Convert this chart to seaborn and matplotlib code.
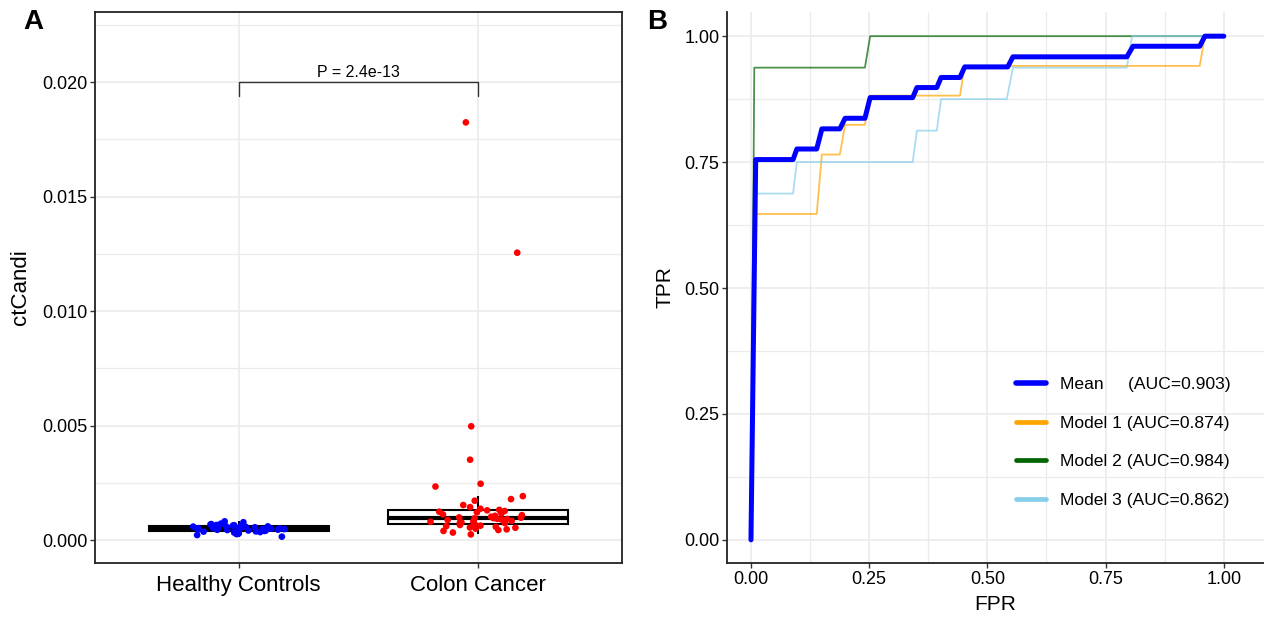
# ctCandi levels (A) and ROC curves of the three models (B)
import numpy as np
import pandas as pd
import matplotlib
matplotlib.use("Agg")
import matplotlib.pyplot as plt
import seaborn as sns
from matplotlib.lines import Line2D

# ---- panel A data ----
groups = ["Healthy Controls", "Colon Cancer"]
group_colors = ["blue", "red"]

healthy_vals = [0.00052, 0.00041, 0.00063, 0.00035, 0.00048, 0.00057, 0.00029, 0.00045,
                0.00066, 0.00050, 0.00038, 0.00060, 0.00044, 0.00022, 0.00055, 0.00047,
                0.00070, 0.00033, 0.00051, 0.00059, 0.00042, 0.00015, 0.00053, 0.00078,
                0.00046, 0.00037, 0.00062, 0.00049, 0.00056, 0.00031, 0.00068, 0.00043,
                0.00054, 0.00026, 0.00061, 0.00050, 0.00040, 0.00072, 0.00058, 0.00045,
                0.00065, 0.00082]

cancer_vals = [0.00096, 0.01824, 0.00072, 0.00132, 0.00055, 0.01255, 0.00088, 0.00117,
               0.00025, 0.00497, 0.00102, 0.00063, 0.00351, 0.00080, 0.00124, 0.00044,
               0.00246, 0.00093, 0.00109, 0.00058, 0.00234, 0.00076, 0.00130, 0.00033,
               0.00192, 0.00098, 0.00084, 0.00050, 0.00179, 0.00112, 0.00066, 0.00172,
               0.00090, 0.00121, 0.00040, 0.00153, 0.00077, 0.00099, 0.00061, 0.00144,
               0.00082, 0.00127, 0.00047, 0.00137, 0.00095, 0.00074, 0.00054, 0.00106,
               0.00092]

p_text = "P = 2.4e-13"
y_ticks_a = [0.0, 0.005, 0.010, 0.015, 0.020]
y_minor_a = [0.0025, 0.0075, 0.0125, 0.0175, 0.0225]

# ---- panel B data: ROC step points ----
m1_fpr = [0, 0.01, 0.139, 0.150, 0.188, 0.199, 0.241, 0.252, 0.442, 0.452, 0.949, 0.960, 1.0]
m1_tpr = [0, 0.647, 0.647, 0.765, 0.765, 0.824, 0.824, 0.882, 0.882, 0.941, 0.941, 1.0, 1.0]

m2_fpr = [0, 0.007, 0.241, 0.252, 1.0]
m2_tpr = [0, 0.9375, 0.9375, 1.0, 1.0]

m3_fpr = [0, 0.01, 0.089, 0.097, 0.342, 0.351, 0.393, 0.402, 0.541, 0.554, 0.795, 0.806, 1.0]
m3_tpr = [0, 0.6875, 0.6875, 0.75, 0.75, 0.8125, 0.8125, 0.875, 0.875, 0.9375, 0.9375, 1.0, 1.0]

mean_fpr = [0, 0.01, 0.089, 0.097, 0.139, 0.150, 0.188, 0.199, 0.241, 0.252, 0.342, 0.351,
            0.393, 0.402, 0.442, 0.452, 0.543, 0.554, 0.795, 0.808, 0.949, 0.960, 1.0]
mean_tpr = [0, 0.755, 0.755, 0.776, 0.776, 0.816, 0.816, 0.837, 0.837, 0.878, 0.878, 0.898,
            0.898, 0.918, 0.918, 0.939, 0.939, 0.959, 0.959, 0.980, 0.980, 1.0, 1.0]

roc_labels = ["Mean     (AUC=0.903)", "Model 1 (AUC=0.874)",
              "Model 2 (AUC=0.984)", "Model 3 (AUC=0.862)"]
roc_colors = ["blue", "orange", "darkgreen", "skyblue"]
rate_ticks = [0.0, 0.25, 0.50, 0.75, 1.0]
rate_minor = [0.125, 0.375, 0.625, 0.875]

sns.set_theme(style="white")
plt.rcParams['font.family'] = ['Liberation Sans', 'DejaVu Sans']
plt.rcParams['text.color'] = 'black'

W, H = 1264, 620
fig = plt.figure(figsize=(W / 100, H / 100), dpi=100)
ax1 = fig.add_axes([95 / W, 1 - 563 / H, (622 - 95) / W, (563 - 12) / H])
ax2 = fig.add_axes([727 / W, 1 - 563 / H, (W - 727) / W, (563 - 12) / H])

grid_col = "#EBEBEB"

# ---------------- Panel A ----------------
df = pd.DataFrame({
    "group": [groups[0]] * len(healthy_vals) + [groups[1]] * len(cancer_vals),
    "ctCandi": healthy_vals + cancer_vals,
})

sns.boxplot(data=df, x="group", y="ctCandi", order=groups, color="white",
            linecolor="black", linewidth=1.5, width=0.75, showfliers=False,
            showcaps=False, medianprops={"linewidth": 3}, ax=ax1)
np.random.seed(7)
sns.stripplot(data=df, x="group", y="ctCandi", order=groups, hue="group",
              hue_order=groups, palette=group_colors, jitter=0.2, size=4.8,
              legend=False, zorder=3, ax=ax1)

# significance bracket
ax1.plot([0, 0, 1, 1], [0.01939, 0.0200, 0.0200, 0.01939], color="#333333", lw=1.0)
ax1.text(0.5, 0.0202, p_text, ha="center", va="baseline", fontsize=11.5, color="black")

ax1.set_xlim(-0.6, 1.6)
ax1.set_ylim(-0.001, 0.02306)
ax1.set_yticks(y_ticks_a)
ax1.set_yticklabels([f"{v:.3f}" for v in y_ticks_a])
ax1.set_yticks(y_minor_a, minor=True)
ax1.grid(which="major", color=grid_col, lw=1.2)
ax1.grid(which="minor", axis="y", color=grid_col, lw=0.9)
ax1.set_axisbelow(True)
ax1.set_xlabel("")
ax1.set_ylabel("ctCandi", fontsize=16, labelpad=8, color="black")
ax1.tick_params(axis="x", labelsize=16, length=3.5, width=1.0, colors="#333333",
                labelcolor="black", bottom=True, pad=5)
ax1.tick_params(axis="y", which="major", labelsize=13, length=3.5, width=1.0,
                colors="#333333", labelcolor="black", left=True, pad=2)
ax1.tick_params(axis="y", which="minor", length=0)
for s in ax1.spines.values():
    s.set_color("#222222")
    s.set_linewidth(1.3)

# ---------------- Panel B ----------------
for fpr, tpr, col in [(m1_fpr, m1_tpr, roc_colors[1]),
                      (m2_fpr, m2_tpr, roc_colors[2]),
                      (m3_fpr, m3_tpr, roc_colors[3])]:
    sns.lineplot(x=fpr, y=tpr, color=col, lw=1.3, alpha=0.7, sort=False,
                 estimator=None, ax=ax2)
sns.lineplot(x=mean_fpr, y=mean_tpr, color=roc_colors[0], lw=3.6, sort=False,
             estimator=None, ax=ax2)

ax2.set_xlim(-0.0507, 1.085)
ax2.set_ylim(-0.046, 1.048)
ax2.set_xticks(rate_ticks)
ax2.set_xticklabels([f"{v:.2f}" for v in rate_ticks])
ax2.set_yticks(rate_ticks)
ax2.set_yticklabels([f"{v:.2f}" for v in rate_ticks])
ax2.set_xticks(rate_minor, minor=True)
ax2.set_yticks(rate_minor, minor=True)
ax2.grid(which="major", color=grid_col, lw=1.2)
ax2.grid(which="minor", color=grid_col, lw=0.9)
ax2.set_axisbelow(True)
ax2.set_xlabel("FPR", fontsize=15, labelpad=5, color="black")
ax2.set_ylabel("TPR", fontsize=15, labelpad=7, color="black")
ax2.tick_params(which="major", labelsize=13, length=3.5, width=1.0, colors="#333333",
                labelcolor="black", left=True, bottom=True, pad=2)
ax2.tick_params(which="minor", length=0)
for side in ["top", "right"]:
    ax2.spines[side].set_visible(False)
for side in ["left", "bottom"]:
    ax2.spines[side].set_color("#222222")
    ax2.spines[side].set_linewidth(1.3)

handles = [Line2D([0], [0], color=c, lw=(4.0 if i == 0 else 3.4))
           for i, c in enumerate(roc_colors)]
leg = ax2.legend(handles, roc_labels, loc="center left", bbox_to_anchor=(0.538, 0.219),
                 frameon=False, fontsize=12.6, handlelength=1.7, handletextpad=0.8,
                 labelspacing=1.33, borderpad=0, borderaxespad=0)
for t in leg.get_texts():
    t.set_color("black")

# panel letters
fig.text(33 / W, 1 - 22 / H, "A", fontsize=20, fontweight="bold", ha="center", va="center",
         color="black")
fig.text(657 / W, 1 - 22 / H, "B", fontsize=20, fontweight="bold", ha="center", va="center",
         color="black")

fig.savefig("out.png", dpi=100)
